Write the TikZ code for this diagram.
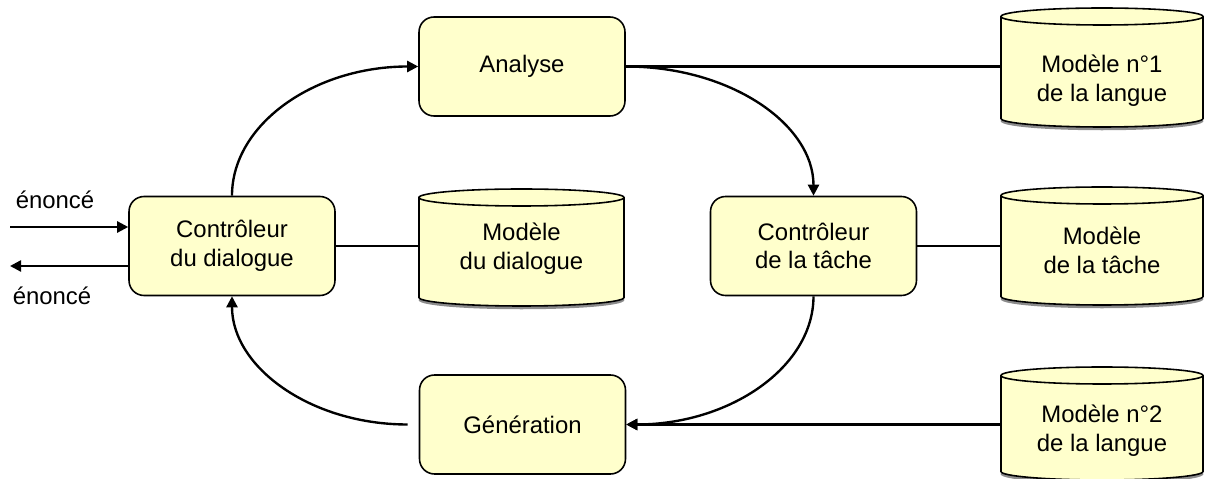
\documentclass[tikz,border=0pt]{standalone}
\usepackage{fontspec}
\setmainfont{Liberation Sans}
\usetikzlibrary{arrows.meta,calc}
\definecolor{boxfill}{HTML}{FFFFCC}
\tikzset{
  txt/.style={align=center, font=\fontsize{13.6}{16.4}\selectfont, inner sep=0pt},
  proc/.style={txt, draw, line width=0.9pt, fill=boxfill, rounded corners=0.3cm,
    minimum width=4.12cm, minimum height=1.98cm},
  cylline/.style={line width=0.9pt, fill=boxfill},
  conn/.style={line width=1.35pt},
  arr/.style={conn, -{Triangle[length=6.3pt,width=6.3pt]}},
}
% name, cx, rx, top, bottom, text centre y, text
\newcommand\dbcyl[7]{%
  \node[inner sep=0pt, minimum width={2*#3*0.02cm}, minimum height={(#5-#4)*0.02cm}] (#1) at (#2,{-(#4+#5)/2}) {};
  \draw[black!45, line width=2pt] (#2-#3+1,-#5+8.5-1.5) arc[start angle=180,end angle=360,x radius=#3-1,y radius=8.5];
  \filldraw[cylline] (#2-#3,-#4-8.5) -- (#2-#3,-#5+8.5) arc[start angle=180,end angle=360,x radius=#3,y radius=8.5] -- (#2+#3,-#4-8.5) arc[start angle=0,end angle=180,x radius=#3,y radius=8.5] -- cycle;
  \draw[line width=0.9pt] (#2-#3,-#4-8.5) arc[start angle=180,end angle=360,x radius=#3,y radius=8.5];
  \node[txt] (#1t) at (#2,-#6) {#7};
}
\begin{document}
\begin{tikzpicture}[x=0.02cm, y=0.02cm]
\useasboundingbox (0,0) rectangle (1205,-479);

% process boxes
\node[proc] (cd)  at (232,-246)   {Contrôleur\\du dialogue};
\node[proc] (an)  at (522,-66.5)  {Analyse};
\node[proc] (ct)  at (813.5,-246) {Contrôleur\\de la tâche};
\node[proc] (gen) at (522.5,-424.5) {Génération};

% data stores
\dbcyl{m1}{1102}{101}{8}{127}{81}{Modèle n°1\\de la langue}
\dbcyl{md}{521.5}{102.5}{189}{306}{249}{Modèle\\du dialogue}
\dbcyl{mt}{1102}{101}{187}{305}{250}{Modèle\\de la tâche}
\dbcyl{m2}{1102}{101}{367}{480}{431}{Modèle n°2\\de la langue}

% input / output
\coordinate (ein)  at (10,-227);
\coordinate (eout) at (10,-266);
\node[txt] (lin)  at (55,-200) {énoncé};
\node[txt] (lout) at (52,-296) {énoncé};
\draw[arr] (ein) -- (ein -| cd.west);
\draw[arr] (eout -| cd.west) -- (eout);

% links to models
\draw[conn] (an.east) -- (an.east -| m1.west);
\draw[conn] (cd.east) -- (cd.east -| md.west);
\draw[conn] (ct.east) -- (ct.east -| mt.west);
\draw[arr] (gen.east -| m2.west) -- (gen.east);

% loop
\draw[arr] (cd.north) .. controls +(0,71.5) and +(-104,0) .. (an.west);
\draw[arr] (an.east) .. controls +(104.6,0) and +(0,71.5) .. (ct.north);
\draw[arr] (ct.south) .. controls +(0,-71) and +(103.5,0) .. (gen.east);
\coordinate (g0) at ($(gen.west)+(-11,0)$);
\draw[arr] (g0) .. controls +(-97,0) and +(0,-71) .. (cd.south);
\end{tikzpicture}
\end{document}
